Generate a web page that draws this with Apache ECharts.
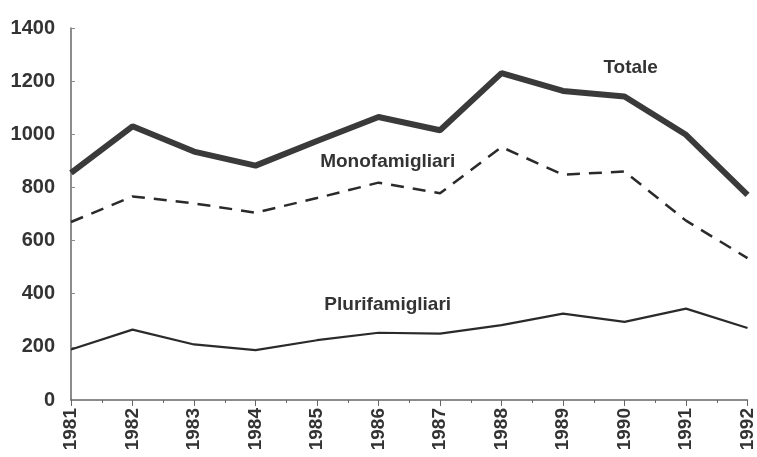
<!DOCTYPE html>
<html><head><meta charset="utf-8">
<script src="https://cdn.jsdelivr.net/npm/echarts@6/dist/echarts.min.js"></script>
<style>html,body{margin:0;padding:0;background:#fff}#c{width:757px;height:457px}</style>
</head><body><div id="c"></div>
<script>
const years = [1981,1982,1983,1984,1985,1986,1987,1988,1989,1990,1991,1992];
const totale = [855,1030,935,882,975,1065,1015,1230,1163,1142,998,772];
const mono = [670,766,740,705,760,818,778,952,848,860,675,534];
const pluri = [190,265,209,188,225,253,250,282,325,294,344,271];
const yTicks = [0,200,400,600,800,1000,1200,1400];

const font = '"Liberation Sans Narrow","Liberation Sans",Arial,sans-serif';
const pairs = arr => years.map((y,i)=>[y,arr[i]]);
function lab(text, x, y){
  return {markPoint:{symbol:'rect',symbolSize:[2,2],silent:true,animation:false,
    itemStyle:{color:'rgba(0,0,0,0)'},
    data:[{coord:[x,y],
      label:{show:true,formatter:text,position:'inside',
      color:'#333',fontSize:19,fontFamily:font,fontWeight:'bold'}}]}};
}
const chart = echarts.init(document.getElementById('c'),null,{renderer:'canvas'});
chart.setOption({
  animation:false,
  grid:{left:71,right:5,top:28,bottom:57},
  xAxis:{type:'value',min:years[0],max:years[years.length-1],interval:1,
    axisLine:{lineStyle:{color:'#666',width:1.5}},
    axisTick:{show:true,length:6,inside:false,lineStyle:{color:'#666'}},
    minorTick:{show:true,splitNumber:2,length:3,lineStyle:{color:'#666'}},
    splitLine:{show:false},
    axisLabel:{rotate:90,color:'#333',fontSize:19,fontFamily:font,fontWeight:'bold',margin:8,
      formatter:v=>String(v)}},
  yAxis:{type:'value',min:yTicks[0],max:yTicks[yTicks.length-1],interval:200,
    axisLine:{show:true,lineStyle:{color:'#666',width:1.5}},
    axisTick:{show:true,inside:true,length:4,lineStyle:{color:'#888'}},
    splitLine:{show:false},
    axisLabel:{color:'#333',fontSize:20,fontFamily:font,fontWeight:'bold',margin:16,
      formatter:v=>String(v)}},
  series:[
    Object.assign({type:'line',name:'Totale',data:pairs(totale),symbol:'none',
      lineStyle:{color:'#3a3a3a',width:6}}, lab('Totale',1990.1,1250)),
    Object.assign({type:'line',name:'Monofamigliari',data:pairs(mono),symbol:'none',
      lineStyle:{color:'#2a2a2a',width:2.5,type:[13,9]}}, lab('Monofamigliari',1986.15,896)),
    Object.assign({type:'line',name:'Plurifamigliari',data:pairs(pluri),symbol:'none',
      lineStyle:{color:'#2a2a2a',width:2.2}}, lab('Plurifamigliari',1986.15,358))
  ]
});
</script></body></html>
